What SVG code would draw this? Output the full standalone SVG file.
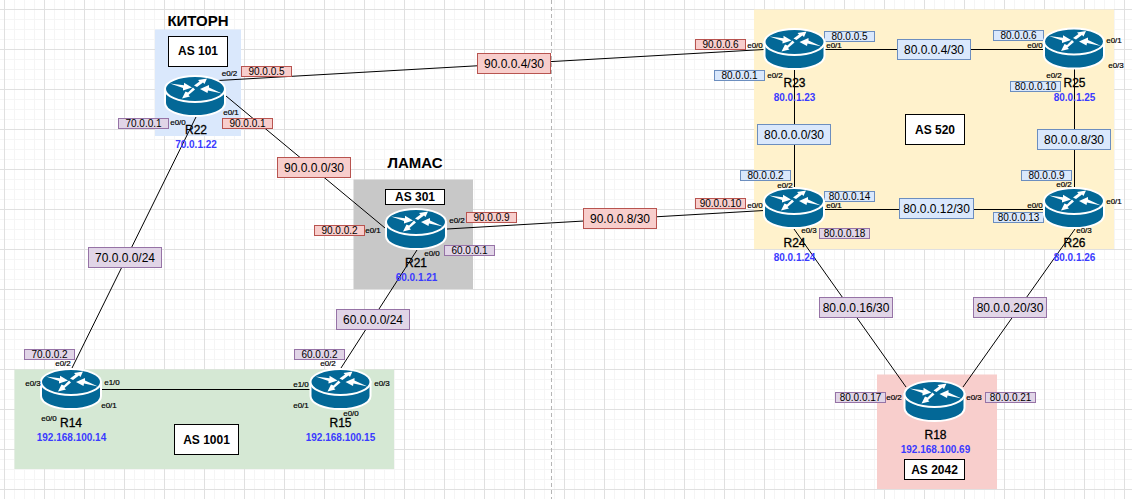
<svg xmlns="http://www.w3.org/2000/svg" width="1132" height="499" viewBox="0 0 1132 499">
<style>
text{font-family:"Liberation Sans",Arial,Helvetica,sans-serif;text-anchor:middle;fill:#000}
.con{stroke:#000;stroke-width:1;fill:none}
.sl{font-size:10px}.bl{font-size:12px}
.r{fill:#f8cecc;stroke:#b85450}.b{fill:#dae8fc;stroke:#6c8ebf}.p{fill:#e1d5e7;stroke:#9673a6}
.e{font-size:8px;stroke:#000;stroke-width:.2}
.n{font-size:12px;stroke:#000;stroke-width:.3}
.ip{font-size:10px;font-weight:bold;fill:#3a3aff}
.as{fill:#fff;stroke:#000}
.ast{font-size:12px;font-weight:bold}
.ttl{font-size:15px;font-weight:bold}
</style>
<defs>
<pattern id="grid" patternUnits="userSpaceOnUse" x="4" y="9" width="40" height="40">
<rect width="40" height="40" fill="#fff"/>
<path d="M10.5 0V40M20.5 0V40M30.5 0V40M0 10.5H40M0 20.5H40M0 30.5H40" stroke="#f5f5f5" stroke-width="1" fill="none"/>
<path d="M.5 0V40M0 .5H40" stroke="#e0e0e0" stroke-width="1" fill="none"/>
</pattern>
<g id="router">
<path d="M-30-7V7C-30 14.500-16.500 20 0 20S30 14.500 30 7V-7Z" fill="#036897" stroke="#fff" stroke-width="2"/>
<ellipse cx="0" cy="-7" rx="30" ry="13" fill="#036897" stroke="#fff" stroke-width="2"/>
<g fill="#fff">
<path d="M-25-12.500L-11-10.800L-11-13.200L-3-8.500L-12-5.500L-12-8Z"/>
<path d="M27-2.500L13-5.500L12.500-3L5-7L14-11L14-8.500Z"/>
<path d="M-1-10.500L4.500-14.500L3-16L12-17.500L9.500-12L8-13.500L2-9Z"/>
<path d="M-2-8.500L-7-3.500L-9.500-4.500L-13 2.500L-5 .5L-6.500-1L0-6.500Z"/>
</g>
</g>
</defs>
<rect id="background" width="1132" height="499" fill="url(#grid)"/>
<path id="divider" d="M551.500 0V499" stroke="#b5b5b5" stroke-width="1" stroke-dasharray="4 3" fill="none"/>

<g id="areas">
<rect x="155" y="29.500" width="86" height="106.500" fill="#dae8fc"/>
<rect x="353.500" y="179.500" width="119.500" height="109.500" fill="#c8c8c8"/>
<rect x="14.500" y="369.500" width="379.500" height="99.500" fill="#d5e8d4"/>
<rect x="754" y="9.500" width="360" height="239.500" fill="#fff2cc"/>
<rect x="877" y="374.500" width="120" height="114.500" fill="#f8cecc"/>
</g>

<g id="connectors">
<path class="con" d="M218 80.500L764 49.500"/>
<path class="con" d="M226 96L385 228"/>
<path class="con" d="M196 117L72 368"/>
<path class="con" d="M417 250L341 368"/>
<path class="con" d="M447 229L764 210.500"/>
<path class="con" d="M101.500 389.500H311"/>
<path class="con" d="M825 49.500H1044"/>
<path class="con" d="M794.500 70V188"/>
<path class="con" d="M1074.500 69V188"/>
<path class="con" d="M824 209.500H1044"/>
<path class="con" d="M794 229L906 387"/>
<path class="con" d="M1075 229L963 387"/>
</g>

<g id="as-boxes">
<g id="title-kitorn"><text class="ttl" x="198" y="26">КИТОРН</text></g>
<g id="title-lamas"><text class="ttl" x="415" y="168">ЛАМАС</text></g>
<g id="as101"><rect class="as" x="168.500" y="36.500" width="59" height="30"/><text class="ast" x="198" y="55">AS 101</text></g>
<g id="as301"><rect class="as" x="385.500" y="189.500" width="59" height="15"/><text class="ast" x="415" y="201">AS 301</text></g>
<g id="as1001"><rect class="as" x="174.500" y="424.500" width="64" height="30"/><text class="ast" x="206.500" y="443.500">AS 1001</text></g>
<g id="as520"><rect class="as" x="905.500" y="114.500" width="59" height="30"/><text class="ast" x="935" y="133.500">AS 520</text></g>
<g id="as2042"><rect class="as" x="904.500" y="459.500" width="60" height="20"/><text class="ast" x="934.500" y="473.500">AS 2042</text></g>
</g>

<g id="link-labels">
<g id="net-90-0-0-4"><rect class="r" x="477.500" y="53.500" width="73" height="20"/><text class="bl" x="514" y="68">90.0.0.4/30</text></g>
<g id="net-90-0-0-0"><rect class="r" x="277.500" y="157.500" width="73" height="20"/><text class="bl" x="314" y="172">90.0.0.0/30</text></g>
<g id="net-90-0-0-8"><rect class="r" x="583.500" y="208.500" width="73" height="20"/><text class="bl" x="620" y="223">90.0.0.8/30</text></g>
<g id="net-70-0-0-0"><rect class="p" x="88.500" y="247.500" width="73" height="20"/><text class="bl" x="125" y="262">70.0.0.0/24</text></g>
<g id="net-60-0-0-0"><rect class="p" x="336.500" y="309.500" width="73" height="20"/><text class="bl" x="373" y="324">60.0.0.0/24</text></g>
<g id="net-80-0-0-4"><rect class="b" x="897.500" y="39.500" width="73" height="20"/><text class="bl" x="934" y="54">80.0.0.4/30</text></g>
<g id="net-80-0-0-0"><rect class="b" x="757.500" y="124.500" width="73" height="20"/><text class="bl" x="794" y="139">80.0.0.0/30</text></g>
<g id="net-80-0-0-8"><rect class="b" x="1037.500" y="129.500" width="73" height="20"/><text class="bl" x="1074" y="144">80.0.0.8/30</text></g>
<g id="net-80-0-0-12"><rect class="b" x="899.500" y="198.500" width="74" height="20"/><text class="bl" x="936.500" y="213">80.0.0.12/30</text></g>
<g id="net-80-0-0-16"><rect class="p" x="819.500" y="297.500" width="73" height="20"/><text class="bl" x="856" y="312">80.0.0.16/30</text></g>
<g id="net-80-0-0-20"><rect class="p" x="973.500" y="297.500" width="73" height="20"/><text class="bl" x="1010" y="312">80.0.0.20/30</text></g>
</g>

<g id="address-labels">
<g><rect class="r" x="241.500" y="66.500" width="50" height="10"/><text class="sl" x="266.500" y="75">90.0.0.5</text></g>
<g><rect class="r" x="222.500" y="118.500" width="50" height="10"/><text class="sl" x="247.500" y="127">90.0.0.1</text></g>
<g><rect class="p" x="118.500" y="118.500" width="50" height="10"/><text class="sl" x="143.500" y="127">70.0.0.1</text></g>
<g><rect class="r" x="314.500" y="225.500" width="50" height="10"/><text class="sl" x="339.500" y="234">90.0.0.2</text></g>
<g><rect class="r" x="466.500" y="212.500" width="50" height="10"/><text class="sl" x="491.500" y="221">90.0.0.9</text></g>
<g><rect class="p" x="444.500" y="245.500" width="50" height="10"/><text class="sl" x="469.500" y="254">60.0.0.1</text></g>
<g><rect class="p" x="24.500" y="349.500" width="50" height="10"/><text class="sl" x="49.500" y="358">70.0.0.2</text></g>
<g><rect class="p" x="294.500" y="349.500" width="50" height="10"/><text class="sl" x="319.500" y="358">60.0.0.2</text></g>
<g><rect class="r" x="695.500" y="39.500" width="50" height="10"/><text class="sl" x="720.500" y="48">90.0.0.6</text></g>
<g><rect class="b" x="824.500" y="31.500" width="50" height="10"/><text class="sl" x="849.500" y="40">80.0.0.5</text></g>
<g><rect class="b" x="714.500" y="70.500" width="50" height="10"/><text class="sl" x="739.500" y="79">80.0.0.1</text></g>
<g><rect class="b" x="993.500" y="30.500" width="50" height="10"/><text class="sl" x="1018.500" y="39">80.0.0.6</text></g>
<g><rect class="b" x="1010.500" y="81.500" width="50" height="10"/><text class="sl" x="1035.500" y="90">80.0.0.10</text></g>
<g><rect class="b" x="740.500" y="170.500" width="50" height="10"/><text class="sl" x="765.500" y="179">80.0.0.2</text></g>
<g><rect class="r" x="695.500" y="198.500" width="50" height="10"/><text class="sl" x="720.500" y="207">90.0.0.10</text></g>
<g><rect class="b" x="824.500" y="191.500" width="50" height="10"/><text class="sl" x="849.500" y="200">80.0.0.14</text></g>
<g><rect class="p" x="819.500" y="228.500" width="50" height="10"/><text class="sl" x="844.500" y="237">80.0.0.18</text></g>
<g><rect class="b" x="1021.500" y="170.500" width="50" height="10"/><text class="sl" x="1046.500" y="179">80.0.0.9</text></g>
<g><rect class="b" x="993.500" y="212.500" width="50" height="10"/><text class="sl" x="1018.500" y="221">80.0.0.13</text></g>
<g><rect class="p" x="835.500" y="392.500" width="50" height="10"/><text class="sl" x="860.500" y="401">80.0.0.17</text></g>
<g><rect class="p" x="985.500" y="392.500" width="50" height="10"/><text class="sl" x="1010.500" y="401">80.0.0.21</text></g>
</g>

<g id="R22"><use href="#router" x="195" y="96"/><text class="n" x="196" y="134">R22</text><text class="ip" x="196" y="148">70.0.1.22</text>
<text class="e" x="229.500" y="76">e0/2</text><text class="e" x="231" y="115">e0/1</text><text class="e" x="178" y="125">e0/0</text></g>
<g id="R21"><use href="#router" x="416" y="229"/><text class="n" x="416" y="267">R21</text><text class="ip" x="416.500" y="281">60.0.1.21</text>
<text class="e" x="373" y="233">e0/1</text><text class="e" x="457" y="223">e0/2</text><text class="e" x="432" y="256">e0/0</text></g>
<g id="R14"><use href="#router" x="71" y="389"/><text class="n" x="71" y="427">R14</text><text class="ip" x="71.500" y="441">192.168.100.14</text>
<text class="e" x="63" y="366">e0/2</text><text class="e" x="33" y="386">e0/3</text><text class="e" x="112" y="385">e1/0</text><text class="e" x="109" y="408">e0/1</text><text class="e" x="49" y="421">e0/0</text></g>
<g id="R15"><use href="#router" x="340.500" y="389"/><text class="n" x="340.500" y="427">R15</text><text class="ip" x="340.500" y="441">192.168.100.15</text>
<text class="e" x="328" y="366">e0/2</text><text class="e" x="301" y="387">e1/0</text><text class="e" x="382" y="386">e0/3</text><text class="e" x="301" y="408">e0/1</text><text class="e" x="351" y="416">e0/0</text></g>
<g id="R23"><use href="#router" x="794.500" y="49"/><text class="n" x="794.500" y="87">R23</text><text class="ip" x="794.500" y="101">80.0.1.23</text>
<text class="e" x="755" y="48">e0/0</text><text class="e" x="834" y="48">e0/1</text><text class="e" x="775" y="78">e0/2</text></g>
<g id="R25"><use href="#router" x="1074" y="48.500"/><text class="n" x="1074.500" y="87">R25</text><text class="ip" x="1074.500" y="101">80.0.1.25</text>
<text class="e" x="1035" y="48">e0/0</text><text class="e" x="1114" y="43">e0/1</text><text class="e" x="1116" y="68">e0/3</text><text class="e" x="1054" y="78">e0/2</text></g>
<g id="R24"><use href="#router" x="794" y="208"/><text class="n" x="794.500" y="247">R24</text><text class="ip" x="794.500" y="261">80.0.1.24</text>
<text class="e" x="785" y="188">e0/2</text><text class="e" x="755" y="208">e0/0</text><text class="e" x="834" y="208">e0/1</text><text class="e" x="809" y="233">e0/3</text></g>
<g id="R26"><use href="#router" x="1074" y="208"/><text class="n" x="1074.500" y="247">R26</text><text class="ip" x="1074.500" y="261">80.0.1.26</text>
<text class="e" x="1064" y="187">e0/2</text><text class="e" x="1035" y="208">e0/0</text><text class="e" x="1114" y="204">e0/1</text><text class="e" x="1084" y="233">e0/3</text></g>
<g id="R18"><use href="#router" x="934.500" y="401"/><text class="n" x="935.500" y="439">R18</text><text class="ip" x="935.500" y="453">192.168.100.69</text>
<text class="e" x="894" y="400">e0/2</text><text class="e" x="974" y="400">e0/3</text></g>
</svg>
